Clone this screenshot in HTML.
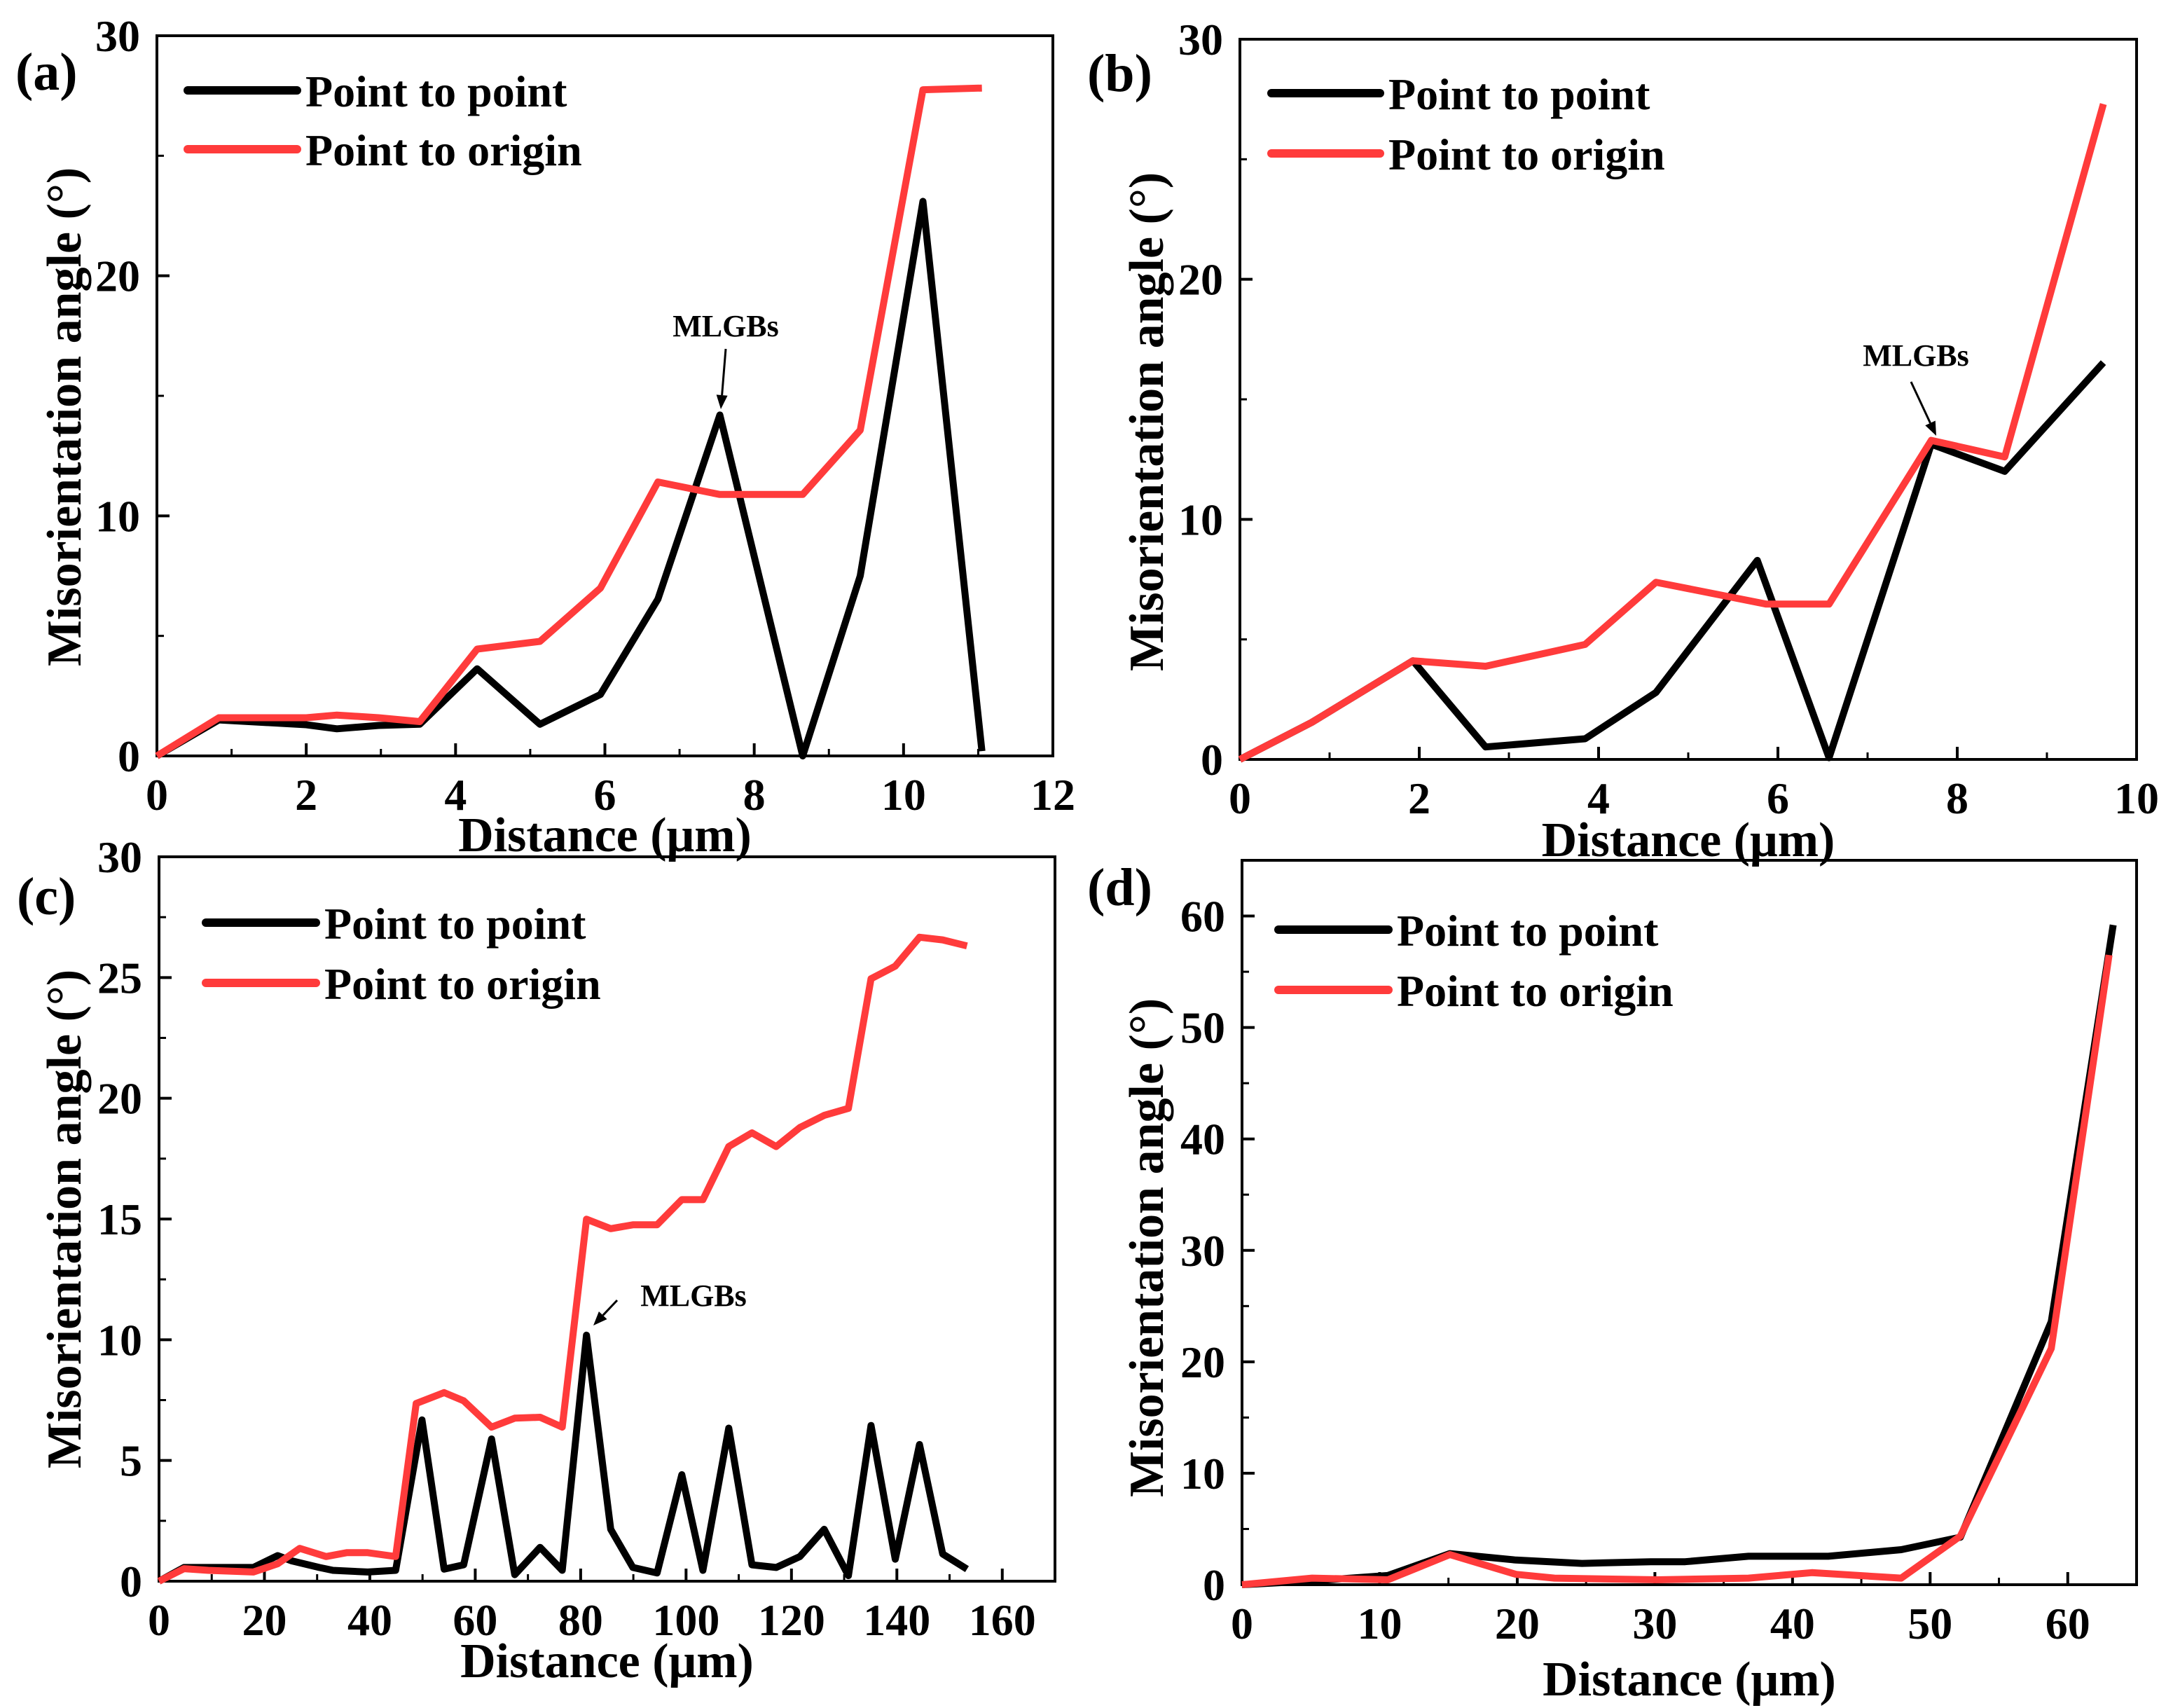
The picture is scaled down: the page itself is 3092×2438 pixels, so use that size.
<!DOCTYPE html>
<html><head><meta charset="utf-8"><style>
html,body{margin:0;padding:0;background:#fff;}
svg{display:block;font-family:"Liberation Serif",serif;font-weight:bold;}
</style></head><body>
<svg id="fig" xmlns="http://www.w3.org/2000/svg" width="3092" height="2438" viewBox="0 0 3092 2438"></svg>
<script>
// Panel (a)
const aX = [0,0.83,2.0,2.41,2.97,3.52,4.29,5.13,5.94,6.71,7.54,8.65,9.42,10.26,11.05];
const aP2P = [0,1.5,1.3,1.13,1.27,1.32,3.63,1.32,2.56,6.53,14.2,0,7.5,23.1,0.2];
const aP2O = [0,1.59,1.59,1.7,1.59,1.43,4.45,4.77,6.99,11.41,10.89,10.89,13.57,27.75,27.82];
// Panel (b)
const bX = [0,0.8,1.93,2.74,3.85,4.64,5.77,6.57,7.71,8.53,9.63];
const bP2P = [0,1.54,4.11,0.52,0.86,2.79,8.29,0.07,13.13,12.0,16.53];
const bXo = [0,0.8,1.93,2.74,3.85,4.64,5.87,6.57,7.71,8.53,9.63];
const bP2O = [0,1.54,4.11,3.88,4.79,7.38,6.47,6.47,13.29,12.6,27.3];
// Panel (c)
const cX = [0,4.74,9.35,17.9,22.5,25.2,30.4,33.0,39.6,44.9,49.9,54.1,57.8,63.1,67.5,72.3,76.5,81.1,85.7,89.9,94.5,99.2,103.2,108.1,112.5,117.1,121.6,126.2,130.8,135.1,139.7,144.3,148.7,153.3];
const cP2P = [0,0.57,0.57,0.57,1.06,0.84,0.57,0.45,0.38,0.45,6.68,0.5,0.68,5.89,0.27,1.40,0.45,10.19,2.15,0.57,0.34,4.41,0.45,6.34,0.68,0.57,1.02,2.15,0.23,6.45,0.91,5.66,1.13,0.5];
const cXo = [0,4.74,9.35,17.9,22.5,26.7,31.7,35.6,39.6,44.9,48.8,54.1,57.8,63.1,67.5,72.3,76.5,81.1,85.7,89.9,94.5,99.2,103.2,108.1,112.5,117.1,121.6,126.2,130.8,135.1,139.7,144.3,148.7,153.3];
const cP2O = [0,0.52,0.45,0.38,0.72,1.36,1.02,1.18,1.18,1.02,7.36,7.81,7.47,6.38,6.75,6.79,6.38,14.99,14.6,14.76,14.76,15.8,15.8,18.0,18.57,18.0,18.79,19.29,19.58,24.95,25.47,26.67,26.56,26.31];
// Panel (d)
const dX = [0,5.09,10.6,15.1,19.9,24.7,29.7,32.2,36.8,42.6,47.9,52.2,58.8,63.3];
const dP2P = [0,0.34,0.83,2.79,2.21,1.91,2.06,2.06,2.55,2.55,3.14,4.26,23.6,59.2];
const dXo = [0,5.09,10.6,15.1,19.9,22.7,30.2,36.8,41.4,47.9,52.2,58.8,63.0];
const dP2O = [0,0.59,0.44,2.7,0.93,0.59,0.44,0.59,1.08,0.59,4.36,21.2,56.5];
// ticks
const aXticks = [0,2,4,6,8,10,12];
const bXticks = [0,2,4,6,8,10];
const cXticks = [0,20,40,60,80,100,120,140,160];
const dXticks = [0,10,20,30,40,50,60];
const abYticks = [0,10,20,30];
const cYticks = [0,5,10,15,20,25,30];
const dYticks = [0,10,20,30,40,50,60];

const NS = "http://www.w3.org/2000/svg";
const svg = document.getElementById('fig');
function mk(tag, attrs, parent){
  const e = document.createElementNS(NS, tag);
  for (const k in attrs) e.setAttribute(k, attrs[k]);
  (parent||svg).appendChild(e);
  return e;
}
function txt(parent, x, y, s, size, anchor){
  const t = mk('text', {x:x, y:y, 'font-size':size, 'text-anchor':anchor||'start', fill:'#000'}, parent);
  t.textContent = s;
  return t;
}

function panel(cfg){
  const g = mk('g', {});
  
  
  const L=cfg.L,R=cfg.R,T=cfg.T,B=cfg.B;
  const sx = v => L + (v - cfg.x0)/(cfg.x1 - cfg.x0)*(R-L);
  const sy = v => B - (v - cfg.y0)/(cfg.y1 - cfg.y0)*(B-T);
  const fr = mk('rect', {x:L, y:T, width:R-L, height:B-T, fill:'none', stroke:'#000', 'stroke-width':4}, g);
  
  
  cfg.xticks.forEach(v => {
    mk('line', {x1:sx(v), x2:sx(v), y1:B, y2:B-18, stroke:'#000', 'stroke-width':4}, g);
    const t = txt(g, sx(v), B+77, String(v), 64, 'middle');
    
    
  });
  for (let v = cfg.x0; v <= cfg.x1 + 1e-9; v += cfg.xminor){
    mk('line', {x1:sx(v), x2:sx(v), y1:B, y2:B-10, stroke:'#000', 'stroke-width':3}, g);
  }
  cfg.yticks.forEach(v => {
    mk('line', {x1:L, x2:L+18, y1:sy(v), y2:sy(v), stroke:'#000', 'stroke-width':4}, g);
    const t = txt(g, L-24, sy(v)+22, String(v), 64, 'end');
    
    
  });
  for (let v = cfg.y0; v <= cfg.y1 + 1e-9; v += cfg.yminor){
    mk('line', {x1:L, x2:L+10, y1:sy(v), y2:sy(v), stroke:'#000', 'stroke-width':3}, g);
  }
  const xt = txt(g, (L+R)/2, cfg.xtY, 'Distance (\u03bcm)', 70, 'middle');
  
  
  const cy = (T+B)/2 + (cfg.ytDy||0);
  const yt = txt(g, 0, 0, 'Misorientation angle (\u00b0)', 70, 'middle');
  yt.setAttribute('transform', 'translate(' + cfg.ytX + ',' + cy + ') rotate(-90)');
  
  
  const pl = txt(g, cfg.plX, cfg.plY, '(' + cfg.id + ')', 76, 'start');
  
  
  const path = (xs, ys) => xs.map((x,i) => (i?'L':'M') + sx(x).toFixed(1) + ',' + sy(ys[i]).toFixed(1)).join(' ');
  const p1 = mk('path', {d:path(cfg.xs, cfg.p2p), fill:'none', stroke:'#000', 'stroke-width':10, 'stroke-linejoin':'round'}, g);
  
  
  const p2 = mk('path', {d:path(cfg.xso, cfg.p2o), fill:'none', stroke:'#ff3b3b', 'stroke-width':10, 'stroke-linejoin':'round'}, g);
  
  
  const lg = mk('g', {}, g);
  
  
  [['Point to point','#000',cfg.lgY1],['Point to origin','#ff3b3b',cfg.lgY2]].forEach(e => {
    mk('line', {x1:cfg.lgX1, x2:cfg.lgX2, y1:e[2], y2:e[2], stroke:e[1], 'stroke-width':12, 'stroke-linecap':'round'}, lg);
    const t = txt(lg, cfg.lgX2+12, e[2]+23, e[0], 64, 'start');
    
    
  });
  if (cfg.ann){
    const a = cfg.ann;
    const t = txt(g, a.tx, a.ty, 'MLGBs', 44, 'middle');
    
    
    const ang = Math.atan2(a.y2-a.y1, a.x2-a.x1);
    const hx = a.x2 - 20*Math.cos(ang), hy = a.y2 - 20*Math.sin(ang);
    mk('line', {x1:a.x1, y1:a.y1, x2:hx, y2:hy, stroke:'#000', 'stroke-width':3}, g);
    const px = -Math.sin(ang)*8, py = Math.cos(ang)*8;
    const ah = mk('polygon', {points: a.x2+','+a.y2+' '+(hx+px)+','+(hy+py)+' '+(hx-px)+','+(hy-py), fill:'#000'}, g);
    
    
  }
}

panel({id:'a', L:224, R:1503, T:51, B:1079, x0:0, x1:12, y0:0, y1:30, xticks:aXticks, yticks:abYticks, xminor:1, yminor:5,
  xs:aX, p2p:aP2P, xso:aX, p2o:aP2O, xtY:1215, ytX:115, ytDy:30, plX:22, plY:128,
  lgX1:268, lgX2:424, lgY1:129, lgY2:213,
  ann:{tx:1036, ty:480, x1:1036, y1:498, x2:1029, y2:584}});
panel({id:'b', L:1770, R:3050, T:56, B:1084, x0:0, x1:10, y0:0, y1:30, xticks:bXticks, yticks:abYticks, xminor:1, yminor:5,
  xs:bX, p2p:bP2P, xso:bXo, p2o:bP2O, xtY:1222, ytX:1660, ytDy:32, plX:1552, plY:130,
  lgX1:1815, lgX2:1970, lgY1:133, lgY2:219,
  ann:{tx:2735, ty:522, x1:2728, y1:545, x2:2764, y2:622}});
panel({id:'c', L:227, R:1506, T:1223, B:2257, x0:0, x1:170, y0:0, y1:30, xticks:cXticks, yticks:cYticks, xminor:10, yminor:2.5,
  xs:cX, p2p:cP2P, xso:cXo, p2o:cP2O, xtY:2394, ytX:115, ytDy:0, plX:24, plY:1305,
  lgX1:294, lgX2:451, lgY1:1317, lgY2:1403,
  ann:{tx:990, ty:1864, x1:881, y1:1856, x2:847, y2:1892}});
panel({id:'d', L:1773, R:3050, T:1228, B:2262, x0:0, x1:65, y0:0, y1:65, xticks:dXticks, yticks:dYticks, xminor:5, yminor:5,
  xs:dX, p2p:dP2P, xso:dXo, p2o:dP2O, xtY:2420, ytX:1660, ytDy:36, plX:1552, plY:1292,
  lgX1:1825, lgX2:1982, lgY1:1327, lgY2:1413});
</script>
</body></html>
